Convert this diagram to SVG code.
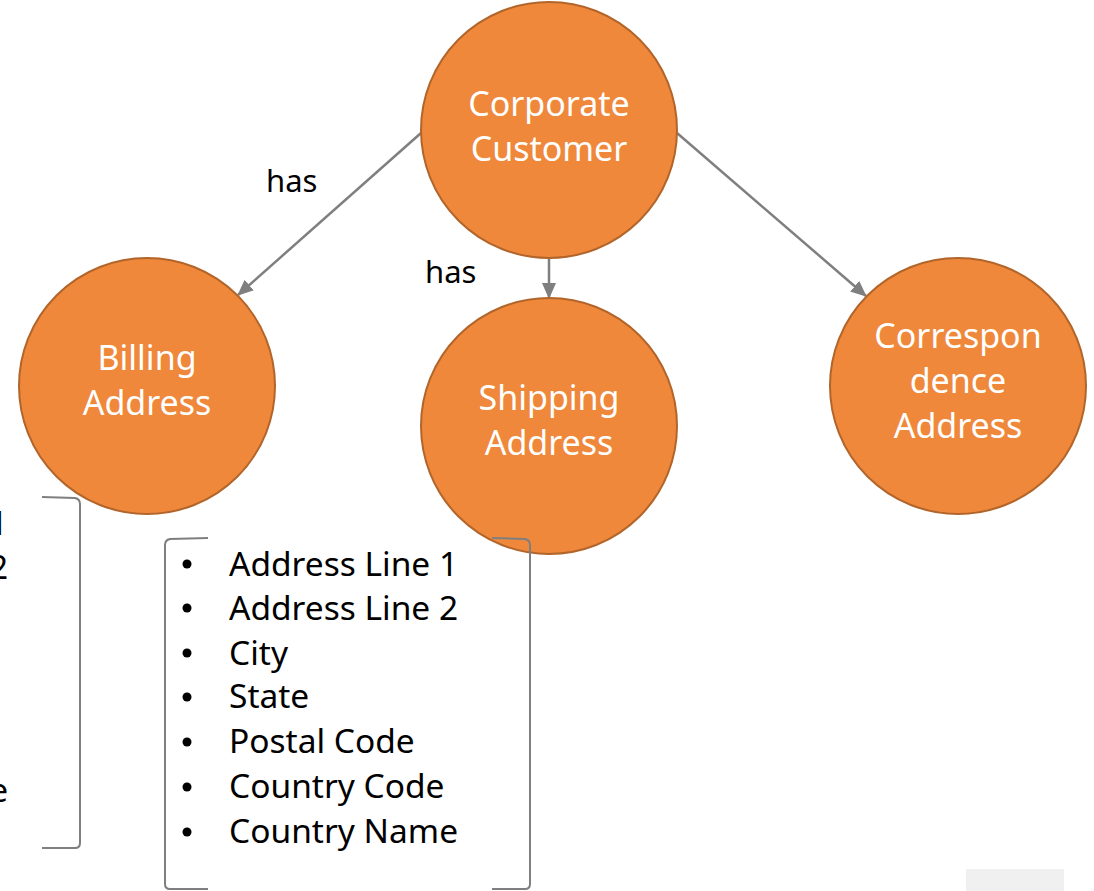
<svg xmlns="http://www.w3.org/2000/svg" width="1094" height="891" viewBox="0 0 1094 891">
<defs>
<style>
.node circle{fill:#EF883B;stroke:#B2652A;stroke-width:2}
.node text{fill:#fff;font-family:"Noto Sans","Open Sans",sans-serif;font-size:34px;text-anchor:middle}
.conn line{stroke:#7F7F7F;stroke-width:2.5;marker-end:url(#ah)}
.lbl{font-family:"Noto Sans","Open Sans",sans-serif;font-size:31px;fill:#000}
.list text{font-family:"Noto Sans","Open Sans",sans-serif;font-size:33.5px;fill:#000}
.brk{fill:none;stroke:#7F7F7F;stroke-width:2}
</style>
<marker id="ah" viewBox="0 0 16 14" refX="15" refY="7" markerWidth="16" markerHeight="14" markerUnits="userSpaceOnUse" orient="auto">
<path d="M0,0 L16,7 L0,14 z" fill="#7F7F7F"/>
</marker>
<g id="addrlist">
<path class="brk" d="M208,538 L170,539 Q165,540 165,545 L165,884 Q165,889 170,889 L208,889"/>
<path class="brk" d="M492,538 L525,539 Q530,540 530,545 L530,884 Q530,889 525,889 L492,889"/>
<g fill="#000">
<circle cx="187" cy="564" r="4.5"/><circle cx="187" cy="608" r="4.5"/><circle cx="187" cy="653" r="4.5"/><circle cx="187" cy="697" r="4.5"/><circle cx="187" cy="742" r="4.5"/><circle cx="187" cy="787" r="4.5"/><circle cx="187" cy="832" r="4.5"/>
</g>
<g class="list">
<text x="229" y="576">Address Line 1</text>
<text x="229" y="620">Address Line 2</text>
<text x="229" y="665">City</text>
<text x="229" y="708">State</text>
<text x="229" y="753">Postal Code</text>
<text x="229" y="798">Country Code</text>
<text x="229" y="843">Country Name</text>
</g>
</g>
</defs>
<rect width="1094" height="891" fill="#fff"/>
<g id="connectors" class="conn">
<line x1="421" y1="133" x2="238" y2="295"/>
<line x1="549" y1="258" x2="549" y2="298"/>
<line x1="677" y1="133" x2="866" y2="296"/>
</g>
<text class="lbl" x="266" y="192">has</text>
<text class="lbl" x="425" y="283">has</text>
<g id="corporate-customer" class="node">
<circle cx="549" cy="130" r="128"/>
<text x="549" y="116">Corporate</text>
<text x="549" y="161">Customer</text>
</g>
<g id="billing-address" class="node">
<circle cx="147" cy="386" r="128"/>
<text x="147" y="370">Billing</text>
<text x="147" y="415">Address</text>
</g>
<g id="shipping-address" class="node">
<circle cx="549" cy="426" r="128"/>
<text x="549" y="410">Shipping</text>
<text x="549" y="455">Address</text>
</g>
<g id="correspondence-address" class="node">
<circle cx="958" cy="386" r="128"/>
<text x="958" y="348">Correspon</text>
<text x="958" y="393">dence</text>
<text x="958" y="438">Address</text>
</g>
<g id="shipping-list"><use href="#addrlist"/></g>
<g id="billing-list"><use href="#addrlist" transform="translate(-450,-41)"/></g>
<rect x="966" y="869" width="98" height="22" fill="#F0F0F0"/>
</svg>
